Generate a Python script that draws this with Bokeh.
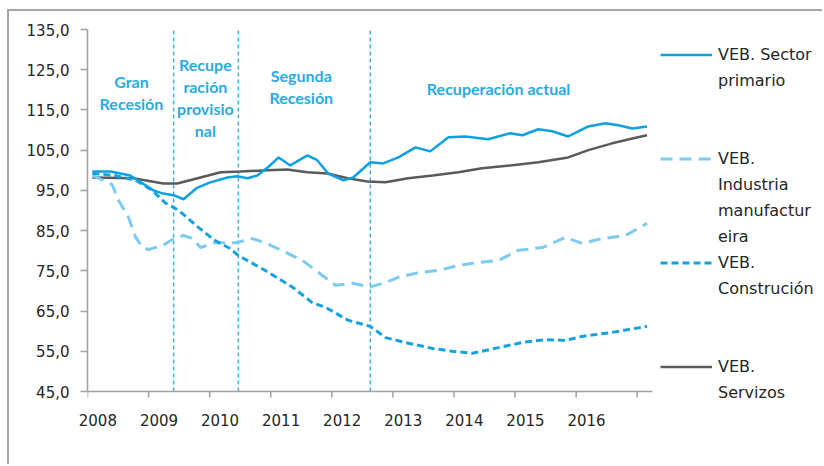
from bokeh.plotting import figure
from bokeh.models import (Range1d, FixedTicker, CustomJSTickFormatter, Label,
                          Legend, LegendItem)
from bokeh.embed import file_html
from bokeh.resources import INLINE

# ---------------- data ----------------
prim_x = [2008.08, 2008.38, 2008.70, 2009.08, 2009.24, 2009.41, 2009.57, 2009.80, 2010.01,
          2010.29, 2010.45, 2010.62, 2010.78, 2010.95, 2011.13, 2011.32, 2011.60, 2011.76,
          2011.94, 2012.19, 2012.35, 2012.63, 2012.84, 2013.09, 2013.37, 2013.61, 2013.91,
          2014.19, 2014.56, 2014.92, 2015.12, 2015.38, 2015.61, 2015.87, 2016.20, 2016.48,
          2016.69, 2016.92, 2017.16]
prim_y = [99.7, 99.7, 98.7, 95.0, 94.2, 93.8, 92.8, 95.7, 97.0,
          98.2, 98.5, 98.0, 98.7, 100.7, 103.2, 101.2, 103.7, 102.5,
          99.2, 97.5, 98.2, 102.0, 101.7, 103.2, 105.7, 104.7, 108.2,
          108.4, 107.7, 109.2, 108.7, 110.2, 109.7, 108.4, 110.9, 111.7,
          111.2, 110.4, 110.9]

ind_x = [2008.08, 2008.40, 2008.51, 2008.67, 2008.79, 2008.90, 2009.00, 2009.23, 2009.39,
         2009.57, 2009.72, 2009.85, 2010.09, 2010.42, 2010.70, 2010.91, 2011.24, 2011.52,
         2011.78, 2012.06, 2012.34, 2012.63, 2012.88, 2013.09, 2013.37, 2013.74, 2014.07,
         2014.40, 2014.73, 2015.05, 2015.45, 2015.82, 2016.10, 2016.36, 2016.81, 2017.16]
ind_y = [98.7, 96.5, 92.5, 88.3, 83.3, 80.8, 80.3, 81.3, 82.8,
         83.8, 83.0, 80.8, 82.0, 82.0, 83.0, 82.0, 79.6, 77.6,
         74.6, 71.4, 71.9, 71.0, 72.1, 73.4, 74.4, 75.1, 76.3,
         77.1, 77.6, 80.1, 80.8, 83.3, 81.8, 82.8, 83.8, 86.8]

con_x = [2008.08, 2008.45, 2008.79, 2009.06, 2009.28, 2009.44, 2009.55, 2009.80, 2010.07,
         2010.34, 2010.47, 2010.91, 2011.36, 2011.68, 2011.90, 2012.27, 2012.63, 2012.88,
         2013.20, 2013.65, 2013.97, 2014.30, 2014.73, 2015.12, 2015.50, 2015.82, 2016.10,
         2016.59, 2017.16]
con_y = [99.2, 98.7, 97.5, 95.0, 91.8, 90.5, 89.3, 86.0, 82.7,
         80.5, 78.8, 75.1, 70.9, 67.1, 65.9, 62.7, 61.2, 58.4,
         57.2, 55.7, 55.0, 54.5, 55.9, 57.2, 57.9, 57.7, 58.7,
         59.7, 61.2]

serv_x = [2008.08, 2008.75, 2009.24, 2009.47, 2009.85, 2010.18, 2010.50, 2010.95, 2011.27,
          2011.60, 2011.93, 2012.26, 2012.58, 2012.88, 2013.25, 2013.65, 2014.07, 2014.46,
          2014.92, 2015.38, 2015.87, 2016.20, 2016.59, 2016.92, 2017.16]
serv_y = [98.2, 98.0, 96.7, 96.7, 98.2, 99.5, 99.7, 100.0, 100.2,
          99.5, 99.2, 98.0, 97.2, 97.0, 98.0, 98.7, 99.5, 100.5,
          101.2, 102.0, 103.2, 105.0, 106.7, 107.9, 108.7]

phase_breaks = [2009.41, 2010.47, 2012.63]
phase_labels = ["Gran\nRecesión", "Recupe\nración\nprovisio\nnal", "Segunda\nRecesión",
                "Recuperación actual"]
phase_label_x = [2008.72, 2009.93, 2011.50, 2014.73]
phase_label_y = [119.3, 118.1, 120.8, 120.3]

year_ticks = [2008, 2009, 2010, 2011, 2012, 2013, 2014, 2015, 2016, 2017]
year_labels = [2008, 2009, 2010, 2011, 2012, 2013, 2014, 2015, 2016]
x_start, x_axis_end = 2008.0, 2017.25
y_min, y_max = 45.0, 135.0
y_ticks = [45, 55, 65, 75, 85, 95, 105, 115, 125, 135]

# legend rows: (series key or None for a text-only row, text)
legend_rows = [("prim", "VEB. Sector"), (None, "primario"), (None, " "), (None, " "),
               ("ind", "VEB."), (None, "Industria"), (None, "manufactur"), (None, "eira"),
               ("con", "VEB."), (None, "Construción"), (None, " "), (None, " "),
               ("serv", "VEB."), (None, "Servizos")]

# ---------------- geometry ----------------
W, H = 815, 455
LEFT, TOP, BOTTOM = 78, 18, 61
PX_PER_YEAR = 565 / (x_axis_end - x_start)
PX_PER_UNIT = 362 / (y_max - y_min)
frame_w = W - LEFT
frame_h = H - TOP - BOTTOM

p = figure(width=W, height=H, output_backend="svg", toolbar_location=None,
           x_range=Range1d(x_start, x_start + frame_w / PX_PER_YEAR),
           y_range=Range1d(y_max - frame_h / PX_PER_UNIT, y_max),
           min_border_left=LEFT, min_border_right=0, min_border_top=TOP,
           min_border_bottom=BOTTOM,
           background_fill_color="white", border_fill_color="white")
p.styles = {"margin-left": "7px", "margin-top": "9px",
            "border-left": "2px solid #a6a6a6", "border-top": "2px solid #a6a6a6"}
p.outline_line_color = None
p.grid.visible = False

FONT = "DejaVu Sans"
TXT = "#262626"
AXC = "#a0a0a0"

# y axis
ya = p.left[0]
ya.bounds = (y_min, y_max)
ya.ticker = FixedTicker(ticks=y_ticks)
ya.formatter = CustomJSTickFormatter(code="return tick.toFixed(1).replace('.', ',')")
ya.major_tick_out = 7
ya.major_tick_in = 0
ya.minor_tick_out = 0
ya.minor_tick_in = 0
ya.axis_line_color = AXC
ya.major_tick_line_color = AXC
ya.axis_line_width = 1.5
ya.major_tick_line_width = 1.5
ya.major_label_standoff = 11
ya.major_label_text_font = FONT
ya.major_label_text_font_size = "15px"
ya.major_label_text_color = TXT

# year labels (bottom axis: labels only)
xa = p.below[0]
xa.bounds = (x_start, x_axis_end)
xa.ticker = FixedTicker(ticks=[y + 0.17 for y in year_labels])
xa.formatter = CustomJSTickFormatter(code="return Math.floor(tick).toString()")
xa.axis_line_color = None
xa.major_tick_line_color = None
xa.minor_tick_line_color = None
xa.major_tick_out = 0
xa.major_tick_in = 0
xa.minor_tick_out = 0
xa.minor_tick_in = 0
xa.major_label_standoff = 8
xa.major_label_text_font = FONT
xa.major_label_text_font_size = "15px"
xa.major_label_text_color = TXT

# category axis line at y = 45 with year tick marks pointing down
tick_len = 6 / PX_PER_UNIT
p.line(x=[x_start, x_axis_end], y=[y_min, y_min], line_color=AXC, line_width=1.5)
p.multi_line(xs=[[t, t] for t in year_ticks],
             ys=[[y_min, y_min - tick_len] for t in year_ticks],
             line_color=AXC, line_width=1.5)

# phase separators
p.segment(x0=phase_breaks, y0=[y_min] * 3, x1=phase_breaks, y1=[y_max + 1] * 3,
          line_color="#3fb3e6", line_width=1.5, line_dash="4 3")

# series
r = {}
r["serv"] = p.line(serv_x, serv_y, line_color="#5a5a5a", line_width=2.5)
r["ind"] = p.line(ind_x, ind_y, line_color="#7ccbf0", line_width=3, line_dash="12 7")
r["con"] = p.line(con_x, con_y, line_color="#16a2e0", line_width=3, line_dash="7 4")
r["prim"] = p.line(prim_x, prim_y, line_color="#0ea1e1", line_width=2.5)
blank = p.line([], [], line_alpha=0)

# phase labels
for t, x, y in zip(phase_labels, phase_label_x, phase_label_y):
    p.add_layout(Label(x=x, y=y, text=t, text_align="center", text_baseline="middle",
                       text_font="Lato", text_font_style="bold", text_font_size="16px",
                       text_color="#29abe2", text_line_height=1.17))

# legend (inside the widened frame, right of the data)
items = [LegendItem(label=t, renderers=[r[k] if k else blank]) for k, t in legend_rows]
leg = Legend(items=items, location=(573, 2), orientation="vertical", margin=0, padding=0,
             spacing=5, glyph_width=52, glyph_height=21, label_height=21, label_standoff=6,
             border_line_alpha=0, background_fill_alpha=0,
             label_text_font=FONT, label_text_font_size="16px", label_text_color=TXT)
p.add_layout(leg)

open("out.html", "w").write(file_html(p, INLINE))
